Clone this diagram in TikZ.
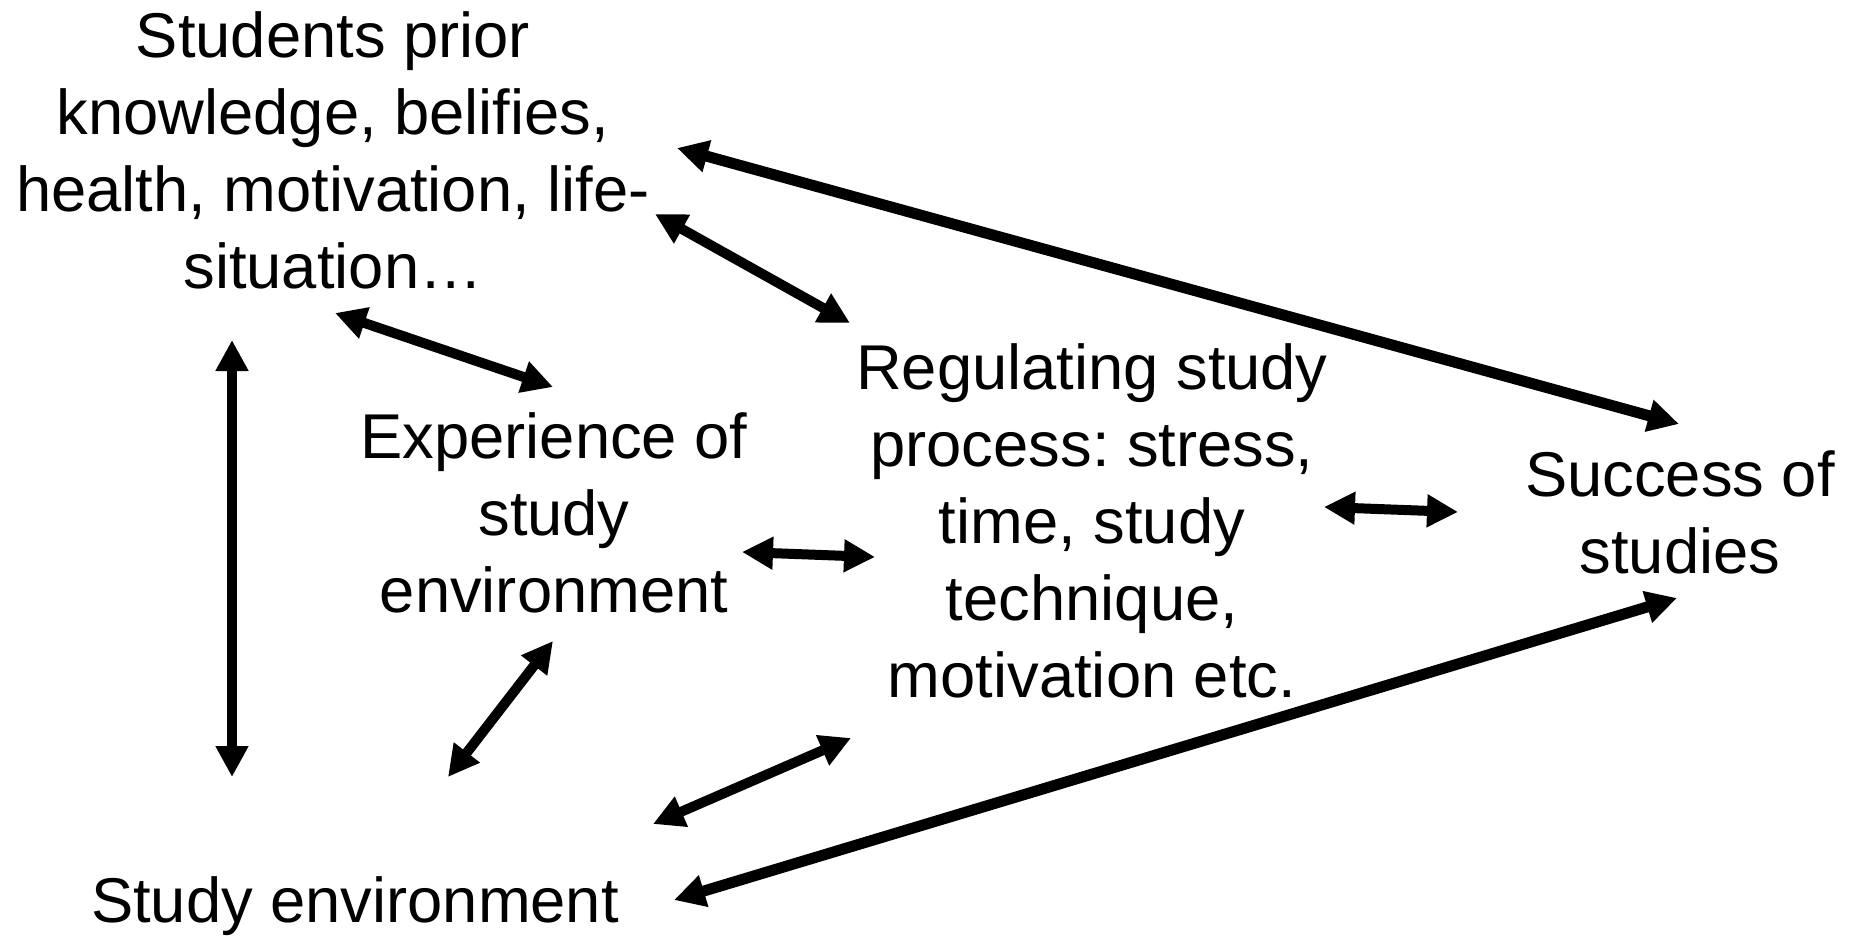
\documentclass[tikz,border=0pt]{standalone}
\usepackage{fontspec}
\setmainfont{Liberation Sans}
\usetikzlibrary{arrows.meta}
\frenchspacing
\begin{document}
\begin{tikzpicture}[x=1pt,y=-1pt,
  lbl/.style={anchor=base, align=center, inner sep=0pt,
    font=\fontsize{63.3pt}{77pt}\selectfont\frenchspacing},
  biarrow/.style={line width=10pt,
    arrows={Triangle[length=31pt,width=31pt]-Triangle[length=31pt,width=31pt]}},
  bold/.style={line width=11pt}]
\useasboundingbox[fill=white] (0,0) rectangle (1857,936);
\node[lbl] (stud) at (333,288) {Students prior\\knowledge, belifies,\\health, motivation, life-\\situation…};
\node[lbl] (exp) at (554,612) {Experience of\\study\\environment};
\node[lbl] (reg) at (1092,697) {Regulating study\\process: stress,\\time, study\\technique,\\motivation etc.};
\node[lbl] (succ) at (1680,573) {Success of\\studies};
\node[lbl] (env) at (355,922) {Study environment};
% arrows
\draw[biarrow,bold] ([shift={(344,-140)}]stud.base) -- ([shift={(-1,-149)}]succ.base);
\draw[biarrow] ([shift={(322,-74)}]stud.base) -- ([shift={(-242,-374)}]reg.base);
\draw[biarrow] ([shift={(2,25)}]stud.base) -- ([shift={(-1,-225)}]exp.base);
\draw[biarrow] ([shift={(-101,52)}]stud.base) -- ([shift={(-123,-145)}]env.base);
\draw[biarrow] ([shift={(188,-60)}]exp.base) -- ([shift={(-217,-140)}]reg.base);
\draw[biarrow] ([shift={(232,-190)}]reg.base) -- ([shift={(-222,-61)}]succ.base);
\draw[biarrow] ([shift={(-1,29)}]exp.base) -- ([shift={(93,-145)}]env.base);
\draw[biarrow] ([shift={(298,-98)}]env.base) -- ([shift={(-241,41)}]reg.base);
\draw[biarrow,bold] ([shift={(319,-22)}]env.base) -- ([shift={(-3,25)}]succ.base);
\end{tikzpicture}
\end{document}
